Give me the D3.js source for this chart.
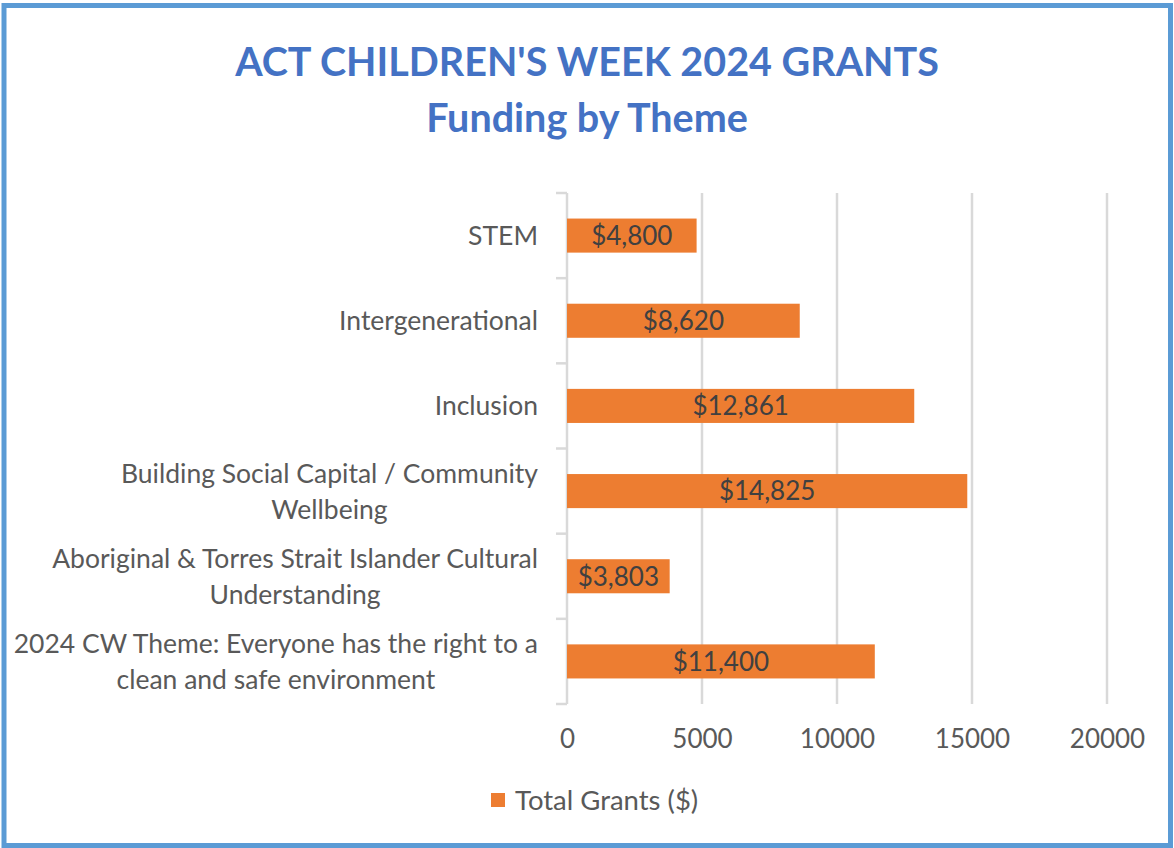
<!DOCTYPE html>
<html>
<head>
<meta charset="utf-8">
<script src="https://cdn.jsdelivr.net/npm/d3@7"></script>
<style>
  html, body { margin: 0; padding: 0; background: #fff; }
  svg { display: block; }
  text { font-family: Lato, "Open Sans", sans-serif; }
</style>
</head>
<body>
<svg id="chart" width="1174" height="848"></svg>
<script>
// ---- data ----
const categories = [
  "STEM",
  "Intergenerational",
  "Inclusion",
  "Building Social Capital / Community Wellbeing",
  "Aboriginal & Torres Strait Islander Cultural Understanding",
  "2024 CW Theme: Everyone has the right to a clean and safe environment"
];
const values = [4800, 8620, 12861, 14825, 3803, 11400];
const xTicks = [0, 5000, 10000, 15000, 20000];
const titleLines = ["ACT CHILDREN'S WEEK 2024 GRANTS", "Funding by Theme"];
const seriesName = "Total Grants ($)";

// ---- layout ----
const W = 1174, H = 848;
const plot = { left: 567, right: 1107, top: 193, bottom: 704 };
const barColor = "#ED7D31";
const gridColor = "#D9D9D9";
const fs = 26.5;

const svg = d3.select("#chart");

// border
svg.append("rect")
  .attr("x", 4).attr("y", 5.5)
  .attr("width", 1166.5).attr("height", 840)
  .attr("fill", "#fff")
  .attr("stroke", "#5B9BD5")
  .attr("stroke-width", 5);

// title
svg.append("g").selectAll("text")
  .data(titleLines)
  .join("text")
  .attr("x", 587)
  .attr("y", (d, i) => 76 + i * 56)
  .attr("text-anchor", "middle")
  .attr("font-weight", "bold")
  .attr("font-size", 39.5)
  .attr("fill", "#4472C4")
  .text(d => d);

// scales
const x = d3.scaleLinear().domain([0, 20000]).range([plot.left, plot.right]);
const y = d3.scaleBand().domain(categories).range([plot.top, plot.bottom]).paddingInner(0.6).paddingOuter(0.3);
const band = d3.scaleBand().domain(categories).range([plot.top, plot.bottom]);

// gridlines
svg.append("g").selectAll("line")
  .data(xTicks.slice(1))
  .join("line")
  .attr("x1", d => x(d)).attr("x2", d => x(d))
  .attr("y1", plot.top).attr("y2", plot.bottom)
  .attr("stroke", gridColor).attr("stroke-width", 2.5);

// category axis line + tick marks
const axG = svg.append("g");
axG.append("line")
  .attr("x1", plot.left).attr("x2", plot.left)
  .attr("y1", plot.top).attr("y2", plot.bottom)
  .attr("stroke", gridColor).attr("stroke-width", 2.5);
const boundaries = categories.map(c => band(c)).concat([plot.bottom]);
axG.selectAll("line.tk")
  .data(boundaries)
  .join("line")
  .attr("class", "tk")
  .attr("x1", plot.left - 11).attr("x2", plot.left)
  .attr("y1", d => d).attr("y2", d => d)
  .attr("stroke", gridColor).attr("stroke-width", 2.5);

// x tick labels via d3 axis
const xAxis = d3.axisBottom(x).tickValues(xTicks).tickFormat(d3.format("d")).tickSize(0).tickPadding(0);
const xg = svg.append("g").attr("transform", `translate(0, ${plot.bottom + 26})`).call(xAxis);
xg.select(".domain").remove();
xg.selectAll("text")
  .attr("font-family", "Lato, sans-serif")
  .attr("font-size", 26)
  .attr("fill", "#595959");

// bars
const data = categories.map((c, i) => ({ c, v: values[i] }));
svg.append("g").selectAll("rect")
  .data(data)
  .join("rect")
  .attr("x", x(0))
  .attr("y", d => y(d.c))
  .attr("width", d => x(d.v) - x(0))
  .attr("height", y.bandwidth())
  .attr("fill", barColor);

// bar value labels
const fmt = d3.format("$,");
svg.append("g").selectAll("text")
  .data(data)
  .join("text")
  .attr("x", d => (x(0) + x(d.v)) / 2)
  .attr("y", d => y(d.c) + y.bandwidth() / 2)
  .attr("dy", "0.36em")
  .attr("text-anchor", "middle")
  .attr("font-size", 26)
  .attr("fill", "#404040")
  .text(d => fmt(d.v));

// category labels with wrapping
const labelRight = 538;
const maxLabelW = 530;
const lblG = svg.append("g");
const meas = svg.append("text").attr("font-size", fs).attr("visibility", "hidden");
function measure(s) { meas.text(s); return meas.node().getComputedTextLength(); }
function wrap(s) {
  const words = s.split(" ");
  const lines = [];
  let cur = "";
  words.forEach(w => {
    const t = cur ? cur + " " + w : w;
    if (measure(t) > maxLabelW && cur) { lines.push(cur); cur = w; } else { cur = t; }
  });
  if (cur) lines.push(cur);
  return lines;
}
categories.forEach(c => {
  const lines = wrap(c);
  const bw = d3.max(lines, measure);
  const cx = labelRight - bw / 2;
  const cy = band(c) + band.bandwidth() / 2;
  const lh = 36;
  const t = lblG.append("text")
    .attr("text-anchor", "middle")
    .attr("font-size", fs)
    .attr("fill", "#595959");
  lines.forEach((ln, i) => {
    t.append("tspan")
      .attr("x", cx)
      .attr("y", cy + (i - (lines.length - 1) / 2) * lh)
      .attr("dy", "0.36em")
      .text(ln);
  });
});
meas.remove();

// legend
const lg = svg.append("g");
lg.append("rect").attr("x", 491).attr("y", 793).attr("width", 14).attr("height", 14).attr("fill", barColor);
lg.append("text").attr("x", 515).attr("y", 800).attr("dy", "0.36em")
  .attr("font-size", 27.5).attr("fill", "#595959").text(seriesName);
</script>
</body>
</html>
